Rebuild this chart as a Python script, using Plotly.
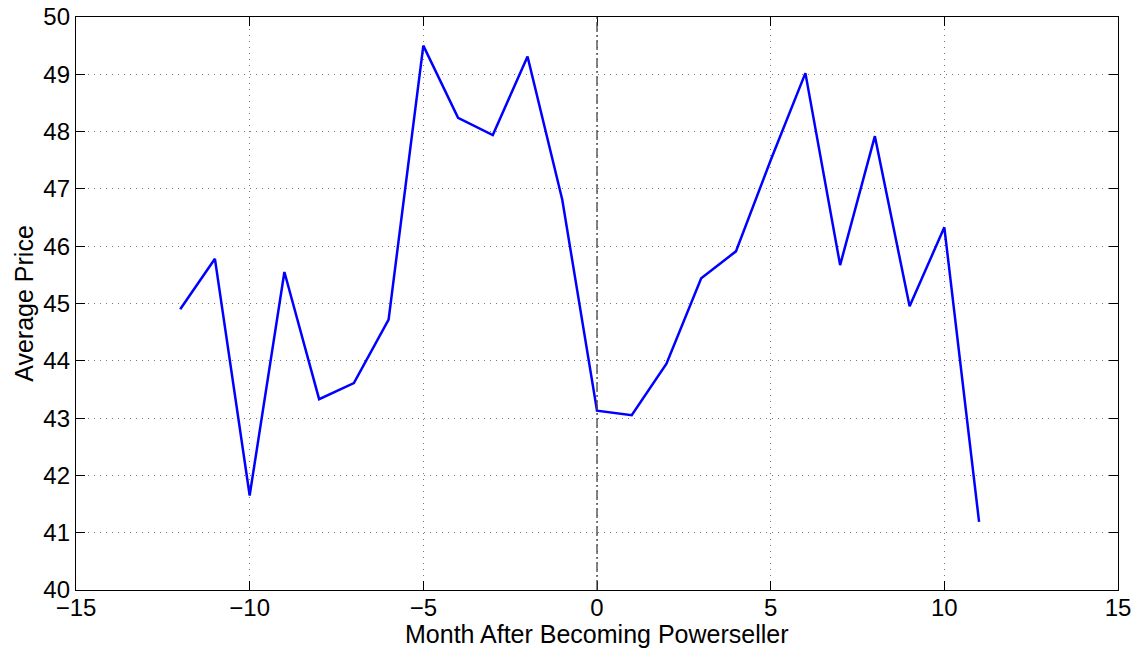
import plotly.graph_objects as go

# Months relative to becoming a Powerseller, and average sale price
months = list(range(-12, 12))
avg_price = [44.90, 45.78, 41.65, 45.55, 43.33, 43.61, 44.72, 49.50,
             48.24, 47.94, 49.31, 46.81, 43.13, 43.05, 43.95, 45.44,
             45.91, 47.50, 49.02, 45.67, 47.92, 44.95, 46.33, 41.19]

x_ticks = [-15, -10, -5, 0, 5, 10, 15]
x_tick_text = ["\u221215", "\u221210", "\u22125", "0", "5", "10", "15"]
y_ticks = list(range(40, 51))

font_family = "Liberation Sans, Arial, Helvetica, sans-serif"

fig = go.Figure()
fig.add_trace(go.Scatter(
    x=months, y=avg_price, mode="lines",
    line=dict(color="#0000ff", width=2.5),
    showlegend=False,
))

# Event marker at month 0
fig.add_shape(type="line", xref="x", yref="y", x0=0, x1=0, y0=40, y1=50,
              line=dict(color="#444444", width=1.3, dash="10px,3px,2px,3px"))

axis_common = dict(
    showline=True, linecolor="black", linewidth=1.3, mirror="ticks",
    ticks="inside", ticklen=9, tickcolor="black", tickwidth=1,
    showgrid=True, gridcolor="#777777", griddash="1px,5px", gridwidth=1,
    zeroline=False, automargin=False,
    tickfont=dict(family=font_family, size=24, color="black"),
)

fig.update_xaxes(range=[-15, 15], tickvals=x_ticks, ticktext=x_tick_text,
                 ticklabelstandoff=-4, **axis_common)
fig.update_yaxes(
    range=[40, 50], tickvals=y_ticks,
    title=dict(text="Average Price", standoff=2,
               font=dict(family=font_family, size=25, color="black")),
    **axis_common,
)

# x-axis title placed just under the tick labels
fig.add_annotation(
    text="Month After Becoming Powerseller",
    xref="paper", yref="paper", x=0.5, y=0,
    xanchor="center", yanchor="top", yshift=-29, showarrow=False,
    borderpad=0,
    font=dict(family=font_family, size=25, color="black"),
)

fig.update_layout(
    width=1142, height=649,
    margin=dict(l=76, r=24, t=17, b=59),
    paper_bgcolor="white", plot_bgcolor="white",
)

fig.write_html("out.html")
